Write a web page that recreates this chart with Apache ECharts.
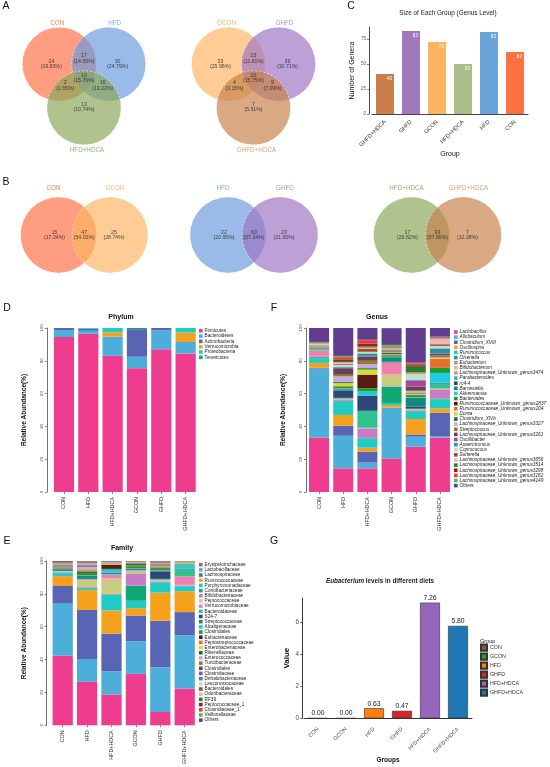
<!DOCTYPE html>
<html><head><meta charset="utf-8">
<script src="https://cdn.jsdelivr.net/npm/echarts@6/dist/echarts.min.js"></script>
<style>html,body{margin:0;padding:0;background:#fff}#c{width:550px;height:767px}</style>
</head><body><div id="c"></div>
<script>
// ---------------- DATA ----------------
const venn3SetsA = ['CON', 'HFD', 'HFD+HDCA'];
// regions: A only, A&B, B only, A&B&C, A&C, B&C, C only
const venn3CountsA = [24, 17, 30, 19, 2, 16, 13];
const venn3SetsB = ['GCON', 'GHFD', 'GHFD+HDCA'];
const venn3CountsB = [33, 15, 39, 20, 4, 9, 7];
// regions: A only, A&B, B only
const venn2SetsA = ['CON', 'GCON'];
const venn2CountsA = [15, 47, 25];
const venn2SetsB = ['HFD', 'GHFD'];
const venn2CountsB = [22, 60, 23];
const venn2SetsC = ['HFD+HDCA', 'GHFD+HDCA'];
const venn2CountsC = [17, 33, 7];

const sizeGroups = ['GHFD+HDCA', 'GHFD', 'GCON', 'HFD+HDCA', 'HFD', 'CON'];
const sizeValues = [40, 83, 72, 50, 82, 62];
const sizeTicks = [0, 25, 50, 75];

const barGroups = ['CON', 'HFD', 'HFD+HDCA', 'GCON', 'GHFD', 'GHFD+HDCA'];
const abundTicks = [0, 20, 40, 60, 80, 100];

const phylumNames = ['Firmicutes', 'Bacteroidetes', 'Actinobacteria', 'Verrucomicrobia', 'Proteobacteria', 'Tenericutes'];
const phylumCON = [94.5, 4.3, 1.2, 0, 0, 0];
const phylumHFD = [96.5, 1.8, 1.2, 0, 0.5, 0];
const phylumHFDHDCA = [83.0, 11.7, 0, 2.7, 2.6, 0];
const phylumGCON = [75.5, 7.0, 16.8, 0, 0, 0.7];
const phylumGHFD = [87.0, 11.6, 1.4, 0, 0, 0];
const phylumGHFDHDCA = [84.5, 7.0, 0, 5.8, 2.7, 0];

const genusNames = ['Lactobacillus', 'Allobaculum', 'Clostridium_XVIII', 'Oscillospira', 'Ruminococcus', 'Olsenella',
  'Eubacterium', 'Bifidobacterium', 'Lachnospiraceae_Unknown_genus3474', 'Parabacteroides', 'rc4-4', 'Barnesiella',
  'Akkermansia', 'Bacteroides', 'Ruminococcaceae_Unknown_genus2837', 'Ruminococcaceae_Unknown_genus204', 'Dorea',
  'Clostridium_XIVb', 'Lachnospiraceae_Unknown_genus3327', 'Streptococcus', 'Lachnospiraceae_Unknown_genus3261',
  'Oscillibacter', 'Anaerotruncus', 'Coprococcus', 'Sutterella', 'Lachnospiraceae_Unknown_genus3056',
  'Lachnospiraceae_Unknown_genus3514', 'Lachnospiraceae_Unknown_genus3298', 'Lachnospiraceae_Unknown_genus3182',
  'Lachnospiraceae_Unknown_genus4149', 'Others'];
const genusCON = [33.3, 42.1, 0.3, 3.0, 2.7, 0.8, 0.6, 0.2, 3.4, 0.6, 0.1, 0.3, 0.1, 0.5, 0.1, 0.1, 0.1, 0.2, 0.2, 0.5, 0.1, 0.1, 0.1, 0.3, 0.1, 0.8, 0.5, 0.1, 0.1, 0.1, 8.5];
const genusHFD = [14.4, 19.9, 6.1, 6.6, 8.1, 0.5, 0.5, 0.3, 0.5, 0.5, 4.5, 0.8, 0.5, 0.8, 0.3, 0.3, 1.8, 0.6, 3.5, 1.0, 3.5, 0.8, 0.6, 1.2, 0.5, 1.0, 0.8, 1.0, 1.3, 0.8, 17.0];
const genusHFDHDCA = [14.4, 3.5, 6.7, 2.4, 5.7, 0.3, 5.8, 0.2, 0.2, 10.3, 9.1, 0.3, 2.4, 2.0, 8.1, 0.3, 3.0, 0.8, 2.5, 2.0, 2.5, 0.5, 1.5, 1.0, 2.0, 0.6, 0.8, 1.5, 2.2, 0.2, 7.2];
const genusGCON = [20.5, 30.9, 0, 1.6, 1.3, 9.9, 0.3, 7.1, 7.2, 0.3, 0.3, 2.8, 0.3, 0.6, 0.3, 0.3, 0.3, 1.0, 0.3, 0.5, 0.3, 0.3, 0.3, 0.3, 0.5, 0.5, 0.5, 0.2, 0.2, 0.8, 10.2];
const genusGHFD = [27.6, 6.1, 1.4, 9.4, 4.5, 0.6, 0.3, 0.3, 0.3, 0.3, 1.2, 5.5, 0.3, 1.0, 0.3, 0.3, 0.6, 0.6, 1.0, 0.6, 2.0, 3.5, 0.5, 4.0, 0.3, 0.3, 4.0, 0.5, 1.2, 0.3, 21.2];
const genusGHFDHDCA = [33.3, 0.8, 14.3, 2.6, 5.5, 0.5, 5.6, 0.3, 0.3, 2.6, 0.3, 0.5, 6.0, 3.0, 0.3, 5.5, 0.3, 0.3, 0.3, 1.0, 1.0, 0.3, 3.0, 1.5, 1.0, 3.5, 0.3, 0.3, 0.3, 0.2, 5.3];

const familyNames = ['Erysipelotrichaceae', 'Lactobacillaceae', 'Lachnospiraceae', 'Ruminococcaceae', 'Porphyromonadaceae',
  'Coriobacteriaceae', 'Bifidobacteriaceae', 'Peptococcaceae', 'Verrucomicrobiaceae', 'Bacteroidaceae', 'S24-7',
  'Streptococcaceae', 'Alcaligenaceae', 'Clostridiales', 'Eubacteriaceae', 'Peptostreptococcaceae', 'Enterobacteriaceae',
  'Rikenellaceae', 'Enterococcaceae', 'Turicibacteraceae', 'Clostridiales', 'Clostridiaceae', 'Dehalobacteriaceae',
  'Leuconostocaceae', 'Bacteroidales', 'Odoribacteraceae', 'RF39', 'Peptococcaceae_1', 'Clostridiaceae_1',
  'Veillonellaceae', 'Others'];
const familyCON = [42.4, 31.7, 10.7, 6.0, 1.8, 0.3, 0.3, 0.3, 0.3, 0.3, 0.8, 0.3, 0.2, 0.3, 0.2, 0.2, 0.1, 0.5, 0.1, 0.2, 0.3, 0.2, 0.2, 0.3, 0.2, 0.3, 0.5, 0.2, 0.2, 0.1, 0.5];
const familyHFD = [26.5, 13.9, 29.8, 12.1, 1.0, 0.3, 0.5, 4.3, 0.3, 0.5, 0.5, 1.2, 0.3, 1.5, 0.5, 0.8, 0.3, 0.5, 1.5, 0.3, 0.5, 0.3, 0.3, 0.3, 0.3, 0.3, 0.3, 0.3, 0.3, 0.2, 0.3];
const familyHFDHDCA = [18.8, 14.1, 22.9, 14.1, 9.5, 0.3, 0.3, 9.4, 2.4, 0.3, 0.5, 0.3, 1.8, 0.5, 2.5, 0.3, 0.4, 0.1, 0.1, 0.1, 0.1, 0.1, 0.1, 0.1, 0.1, 0.1, 0.1, 0.1, 0.1, 0.1, 0.3];
const familyGCON = [31.3, 19.8, 15.7, 4.5, 4.5, 9.2, 7.5, 1.4, 0.3, 0.3, 0.5, 0.5, 0.2, 1.0, 0.2, 0.2, 0.1, 1.0, 0.1, 0.3, 0.3, 0.1, 0.1, 0.1, 0.1, 0.1, 0.3, 0.1, 0.1, 0.1, 0.4];
const familyGHFD = [8.1, 27.3, 28.2, 17.2, 6.0, 0.3, 0.5, 0.5, 0.5, 0.5, 4.6, 0.5, 0.3, 1.0, 0.3, 0.5, 0.2, 0.3, 0.3, 0.3, 0.5, 0.2, 0.2, 0.2, 0.2, 0.2, 0.3, 0.2, 0.3, 0.1, 0.2];
const familyGHFDHDCA = [22.4, 32.4, 14.1, 12.7, 3.0, 0.3, 0.3, 0.3, 5.2, 4.2, 0.3, 0.3, 2.0, 0.3, 0.2, 0.1, 0.5, 0.1, 0.1, 0.1, 0.1, 0.1, 0.1, 0.1, 0.1, 0.1, 0.1, 0.1, 0.1, 0.1, 0.1];

const eubGroups = ['CON', 'GCON', 'HFD', 'GHFD', 'HFD+HDCA', 'GHFD+HDCA'];
const eubValues = [0.00, 0.00, 0.63, 0.47, 7.26, 5.80];
const eubTicks = [0, 2, 4, 6];

// ---------------- STYLE ----------------
const FONT = 'Liberation Sans, Arial, Helvetica, sans-serif';
const PAL = ['#EE3C8E', '#4DAFD9', '#5A64B4', '#F4A21E', '#1FCBC3', '#10A873', '#C77CC4', '#C9CC7E', '#F17FB1',
  '#2EC28E', '#2D4779', '#148A7E', '#1CCBE4', '#16A12E', '#5B1A14', '#EE6C2C', '#CFDE2C', '#1E6E31', '#CAA9E2',
  '#9A7B23', '#5C4A4E', '#B2419F', '#2592A6', '#C5DCCB', '#A34E1B', '#F2B4BC', '#2B7B2B', '#A31A2A', '#E9383B',
  '#4FC22F', '#623C8F'];
const VENN_FILL = { 'CON': '#FF6F45', 'HFD': '#6A9BDB', 'HFD+HDCA': '#8BA65A', 'GCON': '#FDB462', 'GHFD': '#9E75C2', 'GHFD+HDCA': '#C7804A' };
const VENN_TEXT = { 'CON': '#F4553A', 'HFD': '#5B9BD5', 'HFD+HDCA': '#6EA845', 'GCON': '#F9A04B', 'GHFD': '#A274C8', 'GHFD+HDCA': '#D98A4E' };
const SIZE_COL = { 'GHFD+HDCA': '#C97C4C', 'GHFD': '#A077B9', 'GCON': '#FDB460', 'HFD+HDCA': '#AABD89', 'HFD': '#6AA3D9', 'CON': '#FF7043' };
const EUB_COL = { 'CON': '#8C564B', 'GCON': '#2CA02C', 'HFD': '#FF7F0E', 'GHFD': '#D62728', 'HFD+HDCA': '#9467BD', 'GHFD+HDCA': '#1F77B4' };

// venn layout templates (pixel offsets from diagram centre, y downward)
const V3_CIRCLES = [[-25, -16], [25, -16], [0, 31]];
const V3_LABELS = [[-33, -16], [0, -22], [34, -16], [0, -1], [-19, 7], [19, 7], [0, 30]];
const V3_SETLAB = [[-27, -60], [31, -60], [3, 77]];
const V2_CIRCLES = [[-26, 0], [26, 0]];
const V2_LABELS = [[-30, 0], [0, 0], [30, 0]];
const V2_SETLAB = [[-31, -47], [31, -47]];

const grids = [], xAxes = [], yAxes = [], series = [], titles = [], legends = [];
function addGrid(g, xa, ya) {
  const i = grids.length;
  grids.push(g); xa.gridIndex = i; ya.gridIndex = i; xAxes.push(xa); yAxes.push(ya);
  return i;
}
function addTitle(text, x, y, size, opts) {
  titles.push(Object.assign({ text: text, left: x, top: y, textAlign: 'center', padding: 0,
    textStyle: Object.assign({ fontFamily: FONT, fontSize: size, fontWeight: 'normal', color: '#111' }, (opts || {})) }));
}

function addVenn(cx, cy, r, sets, counts, circ, labs, setlab) {
  const H = 85;
  const gi = addGrid({ left: cx - H, top: cy - H, width: 2 * H, height: 2 * H },
    { type: 'value', min: -H, max: H, show: false },
    { type: 'value', min: -H, max: H, inverse: true, show: false });
  const total = counts.reduce((a, b) => a + b, 0);
  sets.forEach((s, k) => {
    series.push({ type: 'scatter', xAxisIndex: gi, yAxisIndex: gi, symbol: 'circle', symbolSize: 2 * r, silent: true, clip: false,
      itemStyle: { color: VENN_FILL[s], opacity: 0.68, borderColor: '#ffffff', borderWidth: 0.8, borderType: [2, 2] },
      data: [circ[k]] });
  });
  series.push({ type: 'scatter', xAxisIndex: gi, yAxisIndex: gi, symbolSize: 0, silent: true, clip: false, z: 5,
    data: counts.map((c, k) => ({ value: labs[k], cnt: c, pct: (100 * c / total).toFixed(2) })),
    label: { show: true, position: 'inside', fontFamily: FONT, fontSize: 5.2, lineHeight: 5.4, color: '#222',
      formatter: p => p.data.cnt + '\n(' + p.data.pct + '%)' } });
  series.push({ type: 'scatter', xAxisIndex: gi, yAxisIndex: gi, symbolSize: 0, silent: true, clip: false, z: 5,
    data: sets.map((s, k) => ({ value: setlab[k], name: s, label: { color: VENN_TEXT[s] } })),
    label: { show: true, position: 'inside', fontFamily: FONT, fontSize: 6.3, formatter: p => p.name } });
}

addVenn(83, 73, 37, venn3SetsA, venn3CountsA, V3_CIRCLES, V3_LABELS, V3_SETLAB);
addVenn(253.5, 73, 37, venn3SetsB, venn3CountsB, V3_CIRCLES, V3_LABELS, V3_SETLAB);
addVenn(83.5, 235, 38, venn2SetsA, venn2CountsA, V2_CIRCLES, V2_LABELS, V2_SETLAB);
addVenn(254, 235, 38, venn2SetsB, venn2CountsB, V2_CIRCLES, V2_LABELS, V2_SETLAB);
addVenn(437.5, 235, 38, venn2SetsC, venn2CountsC, V2_CIRCLES, V2_LABELS, V2_SETLAB);

// ---------------- C: group sizes ----------------
const gC = addGrid({ left: 372, top: 27, width: 156, height: 87 },
  { type: 'category', data: sizeGroups, offset: 4,
    axisLine: { lineStyle: { color: '#333', width: 0.9 } },
    axisTick: { alignWithLabel: true, length: 2, lineStyle: { color: '#333', width: 0.6 } },
    axisLabel: { rotate: 45, fontFamily: FONT, fontSize: 5.6, color: '#333', margin: 3 },
    name: 'Group', nameLocation: 'middle', nameGap: 31, nameTextStyle: { fontFamily: FONT, fontSize: 7, color: '#111' } },
  { type: 'value', min: 0, max: 87, offset: 3,
    axisLine: { show: true, lineStyle: { color: '#333', width: 0.9 } },
    axisTick: { show: true, length: 2, customValues: sizeTicks, lineStyle: { color: '#333', width: 0.6 } },
    axisLabel: { customValues: sizeTicks, fontFamily: FONT, fontSize: 4.5, color: '#555', margin: 3 },
    splitLine: { show: false },
    name: 'Number of Genera', nameLocation: 'middle', nameGap: 13, nameTextStyle: { fontFamily: FONT, fontSize: 7, color: '#111' } });
series.push({ type: 'bar', xAxisIndex: gC, yAxisIndex: gC, barWidth: '69%', silent: true,
  data: sizeValues.map((v, k) => ({ value: v, itemStyle: { color: SIZE_COL[sizeGroups[k]] } })),
  label: { show: true, position: 'insideTopRight', distance: 2, fontFamily: FONT, fontSize: 4.6, color: '#fff', textBorderWidth: 0 } });

// ---------------- stacked abundance panels ----------------
function addStack(rect, yOff, names, groupsArr, legendTop, legendLeft, legendGap, italic) {
  const gi = addGrid(rect,
    { type: 'category', data: barGroups,
      axisLine: { show: false },
      axisTick: { show: true, alignWithLabel: true, length: 2, lineStyle: { color: '#333', width: 0.6 } },
      axisLabel: { rotate: 90, fontFamily: FONT, fontSize: 5.4, color: '#333', margin: 5 } },
    { type: 'value', min: 0, max: 100, interval: 20, offset: yOff,
      axisLine: { show: true, lineStyle: { color: '#333', width: 0.7 } },
      axisTick: { show: true, length: 2, lineStyle: { color: '#333', width: 0.6 } },
      axisLabel: { rotate: 90, fontFamily: FONT, fontSize: 4.4, color: '#555', margin: 3 },
      splitLine: { show: false },
      name: 'Relative Abundance(%)', nameLocation: 'middle', nameGap: 19,
      nameTextStyle: { fontFamily: FONT, fontSize: 6.5, fontWeight: 'bold', color: '#111' } });
  const legendNames = [];
  names.forEach((nm, k) => {
    let sname = nm;
    while (legendNames.indexOf(sname) >= 0) sname = sname + '\u200b';
    legendNames.push(sname);
    series.push({ type: 'bar', name: sname, stack: 'st' + gi, xAxisIndex: gi, yAxisIndex: gi, barWidth: '83%', silent: true,
      itemStyle: { color: PAL[k] }, data: groupsArr.map(g => g[k]) });
  });
  legends.push({ orient: 'vertical', left: legendLeft, top: legendTop, itemWidth: 3.6, itemHeight: 3.6, itemGap: legendGap,
    icon: 'rect', selectedMode: false, data: legendNames, padding: 0,
    formatter: n => (italic && n !== 'Others') ? '{i|' + n + '}' : n,
    textStyle: { fontFamily: FONT, fontSize: 4.7, lineHeight: 5, color: '#222', padding: [0, 0, 0, -3],
      rich: { i: { fontFamily: FONT, fontSize: 4.7, lineHeight: 5, fontStyle: 'italic', color: '#222' } } } });
}

addStack({ left: 51.8, top: 328, width: 146, height: 164 }, 5, phylumNames,
  [phylumCON, phylumHFD, phylumHFDHDCA, phylumGCON, phylumGHFD, phylumGHFDHDCA], 328.3, 199, 0.3, false);
addStack({ left: 307, top: 328, width: 145, height: 164 }, 1, genusNames,
  [genusCON, genusHFD, genusHFDHDCA, genusGCON, genusGHFD, genusGHFDHDCA], 329.5, 454, 0.12, true);
addStack({ left: 50.5, top: 561, width: 146.4, height: 165 }, 4, familyNames,
  [familyCON, familyHFD, familyHFDHDCA, familyGCON, familyGHFD, familyGHFDHDCA], 562.2, 199, 0.18, false);

// ---------------- G: Eubacterium ----------------
const gG = addGrid({ left: 304, top: 598, width: 168, height: 120.3 },
  { type: 'category', data: eubGroups, offset: 7,
    axisLine: { lineStyle: { color: '#333', width: 1 } },
    axisTick: { alignWithLabel: true, length: 2, lineStyle: { color: '#333', width: 0.7 } },
    axisLabel: { rotate: 45, fontFamily: FONT, fontSize: 5.4, color: '#555', margin: 3 },
    name: 'Groups', nameLocation: 'middle', nameGap: 30, nameTextStyle: { fontFamily: FONT, fontSize: 6.5, fontWeight: 'bold', color: '#111' } },
  { type: 'value', min: 0, max: 7.55, offset: 2,
    axisLine: { show: true, lineStyle: { color: '#333', width: 1 } },
    axisTick: { show: true, length: 2, customValues: eubTicks, lineStyle: { color: '#333', width: 0.7 } },
    axisLabel: { customValues: eubTicks, fontFamily: FONT, fontSize: 6.3, color: '#555', margin: 3 },
    splitLine: { show: false },
    name: 'Value', nameLocation: 'middle', nameGap: 11, nameTextStyle: { fontFamily: FONT, fontSize: 8, fontWeight: 'bold', color: '#111' } });
eubGroups.forEach((g, k) => {
  series.push({ type: 'bar', name: g, xAxisIndex: gG, yAxisIndex: gG, barWidth: '71%', barGap: '-100%', silent: true,
    itemStyle: { color: EUB_COL[g], borderColor: '#333', borderWidth: 0.6 },
    data: eubGroups.map((gg, j) => j === k ? eubValues[k] : '-'),
    label: { show: true, position: 'top', distance: 1, fontFamily: FONT, fontSize: 6.8, color: '#222',
      formatter: p => Number(p.value).toFixed(2) } });
});
legends.push({ orient: 'vertical', left: 480, top: 643.5, itemWidth: 6, itemHeight: 6.2, itemGap: 0.8, icon: 'rect',
  selectedMode: false, data: eubGroups, padding: 0,
  textStyle: { fontFamily: FONT, fontSize: 5.3, lineHeight: 6.2, color: '#333', padding: [0, 0, 0, -2] } });

// ---------------- titles ----------------
addTitle('A', 6, 1, 10.5); addTitle('B', 6, 177, 10.5); addTitle('C', 351, 1, 10.5);
addTitle('D', 7, 303, 10.5); addTitle('F', 274, 303, 10.5);
addTitle('E', 7, 536, 10.5); addTitle('G', 274, 536, 10.5);
addTitle('Size of Each Group (Genus Level)', 448, 10.5, 6.4, { color: '#222' });
addTitle('Phylum', 121, 313.5, 7, { fontWeight: 'bold' });
addTitle('Genus', 377, 313.5, 7, { fontWeight: 'bold' });
addTitle('Family', 122, 544.5, 7, { fontWeight: 'bold' });
titles.push({ text: '{i|Eubacterium} levels in different diets', left: 380, top: 578.5, textAlign: 'center', padding: 0,
  textStyle: { fontFamily: FONT, fontSize: 6.3, color: '#222', rich: { i: { fontFamily: FONT, fontSize: 6.3, fontStyle: 'italic', color: '#222' } } } });
titles.push({ text: 'Group', left: 480, top: 638, padding: 0, textStyle: { fontFamily: FONT, fontSize: 5.5, fontWeight: 'normal', color: '#222' } });

const chart = echarts.init(document.getElementById('c'), null, { renderer: 'canvas', width: 550, height: 767 });
chart.setOption({
  backgroundColor: '#ffffff',
  animation: false,
  textStyle: { fontFamily: FONT },
  title: titles,
  legend: legends,
  grid: grids,
  xAxis: xAxes,
  yAxis: yAxes,
  series: series
});
</script></body></html>
